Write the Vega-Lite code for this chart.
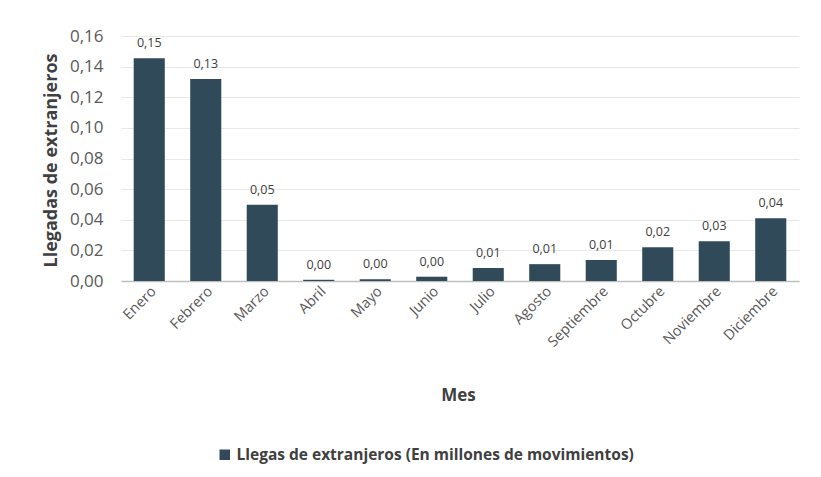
{
  "$schema": "https://vega.github.io/schema/vega-lite/v6.json",
  "autosize": "none",
  "width": 678,
  "height": 245,
  "padding": {"left": 121, "top": 36, "right": 22, "bottom": 196},
  "background": "white",
  "config": {
    "locale": {"number": {"decimal": ",", "thousands": ".", "grouping": [3], "currency": ["", " €"]}},
    "font": "Lato",
    "view": {"stroke": null}
  },
  "data": {
    "values": [
      {"mes": "Enero", "valor": 0.1455},
      {"mes": "Febrero", "valor": 0.132},
      {"mes": "Marzo", "valor": 0.0498},
      {"mes": "Abril", "valor": 0.0008},
      {"mes": "Mayo", "valor": 0.0011},
      {"mes": "Junio", "valor": 0.0028},
      {"mes": "Julio", "valor": 0.0085},
      {"mes": "Agosto", "valor": 0.011},
      {"mes": "Septiembre", "valor": 0.0137},
      {"mes": "Octubre", "valor": 0.022},
      {"mes": "Noviembre", "valor": 0.026},
      {"mes": "Diciembre", "valor": 0.041}
    ]
  },
  "encoding": {
    "x": {
      "field": "mes", "type": "nominal", "sort": null,
      "scale": {"paddingInner": 0.45, "paddingOuter": 0.225},
      "axis": {
        "title": "Mes", "titleFont": "Open Sans", "titleFontSize": 17, "titleFontWeight": "bold", "titleColor": "#404040",
        "titleX": 337, "titleY": 114, "titleBaseline": "middle",
        "labelAngle": -45, "labelAlign": "right", "labelBaseline": "top",
        "labelFont": "Open Sans", "labelFontSize": 14.5, "labelColor": "#595959", "labelPadding": 3, "labelOverlap": false,
        "ticks": false, "domainColor": "#bfbfbf", "domainWidth": 1.5
      }
    },
    "y": {
      "field": "valor", "type": "quantitative",
      "scale": {"domain": [0, 0.16]},
      "axis": {
        "title": "Llegadas de extranjeros", "titleFont": "Open Sans", "titleFontSize": 18, "titleFontWeight": "bold", "titleColor": "#404040",
        "titleX": -70, "titleY": 124, "titleBaseline": "middle", "titleAlign": "center",
        "format": ".2f", "values": [0, 0.02, 0.04, 0.06, 0.08, 0.1, 0.12, 0.14, 0.16],
        "labelOverlap": false, "labelFlush": false,
        "labelFont": "Open Sans", "labelFontSize": 17, "labelColor": "#595959", "labelPadding": 18,
        "ticks": false, "domain": false, "gridColor": "#e8e8e8"
      }
    }
  },
  "layer": [
    {
      "mark": {"type": "bar"},
      "encoding": {
        "color": {
          "datum": "Llegas de extranjeros (En millones de movimientos)", "type": "nominal",
          "scale": {"range": ["#304a5a"]},
          "legend": {
            "title": null, "orient": "none", "legendX": 96, "legendY": 411,
            "symbolType": "square", "symbolSize": 110, "symbolStrokeWidth": 0,
            "labelFont": "Open Sans", "labelFontSize": 15.5, "labelFontWeight": "bold", "labelColor": "#404040", "labelLimit": 600
          }
        }
      }
    },
    {
      "mark": {"type": "text", "dy": -15, "font": "Open Sans", "fontSize": 12.5, "color": "#404040"},
      "encoding": {
        "text": {"field": "valor", "type": "quantitative", "format": ".2f"}
      }
    }
  ]
}
